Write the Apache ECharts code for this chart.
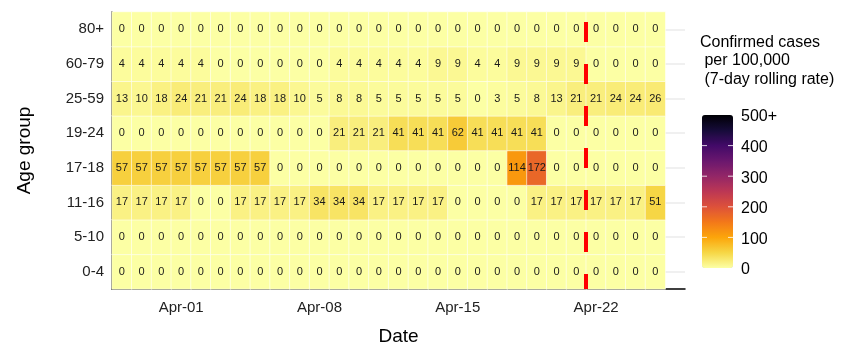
<!DOCTYPE html>
<html>
<head>
<meta charset="utf-8">
<script src="https://cdn.jsdelivr.net/npm/echarts@6/dist/echarts.min.js"></script>
<style>
html, body { margin: 0; padding: 0; background: #fff; }
#chart { width: 852px; height: 347px; }
</style>
</head>
<body>
<div id="chart"></div>
<script>
const dates = ['Mar-29', 'Mar-30', 'Mar-31', 'Apr-01', 'Apr-02', 'Apr-03', 'Apr-04',
    'Apr-05', 'Apr-06', 'Apr-07', 'Apr-08', 'Apr-09', 'Apr-10', 'Apr-11',
    'Apr-12', 'Apr-13', 'Apr-14', 'Apr-15', 'Apr-16', 'Apr-17', 'Apr-18',
    'Apr-19', 'Apr-20', 'Apr-21', 'Apr-22', 'Apr-23', 'Apr-24', 'Apr-25', 'Apr-26'];
const tickLabels = ['Apr-01', 'Apr-08', 'Apr-15', 'Apr-22'];
const ageGroups = ['0-4', '5-10', '11-16', '17-18', '19-24', '25-59', '60-79', '80+'];

const age0to4   = [0,0,0,0,0,0,0,0,0,0,0,0,0,0,0,0,0,0,0,0,0,0,0,0,0,0,0,0];
const age5to10  = [0,0,0,0,0,0,0,0,0,0,0,0,0,0,0,0,0,0,0,0,0,0,0,0,0,0,0,0];
const age11to16 = [17,17,17,17,0,0,17,17,17,17,34,34,34,17,17,17,17,0,0,0,0,17,17,17,17,17,17,51];
const age17to18 = [57,57,57,57,57,57,57,57,0,0,0,0,0,0,0,0,0,0,0,0,114,172,0,0,0,0,0,0];
const age19to24 = [0,0,0,0,0,0,0,0,0,0,0,21,21,21,41,41,41,62,41,41,41,41,0,0,0,0,0,0];
const age25to59 = [13,10,18,24,21,21,24,18,18,10,5,8,8,5,5,5,5,5,0,3,5,8,13,21,21,24,24,26];
const age60to79 = [4,4,4,4,4,0,0,0,0,0,0,4,4,4,4,4,9,9,4,4,9,9,9,9,0,0,0,0];
const age80plus = [0,0,0,0,0,0,0,0,0,0,0,0,0,0,0,0,0,0,0,0,0,0,0,0,0,0,0,0];

const rows = [age0to4, age5to10, age11to16, age17to18, age19to24, age25to59, age60to79, age80plus];
const legendTicks = [0, 100, 200, 300, 400, 500];
const policyDay = 24; // boundary before Apr-22

// inferno, reversed (low = pale yellow)
const inferno = ['#000004', '#160b39', '#420a68', '#6a176e', '#932667', '#bc3754',
    '#dd513a', '#f37819', '#fca50a', '#f6d746', '#fcffa4'];

const FONT = '"Liberation Sans", Arial, sans-serif';

const heatData = [];
rows.forEach(function(vals, yi) {
    vals.forEach(function(v, xi) {
        heatData.push([xi, yi, v]);
    });
});

// colourbar geometry
const barLeft = 702, barTop = 115, barW = 31, barH = 153;
const legendGraphics = [{
    type: 'text',
    left: 700,
    top: 33,
    style: {
        text: 'Confirmed cases\n per 100,000\n (7-day rolling rate)',
        font: '16px ' + FONT,
        fill: '#000',
        lineHeight: 18.7
    }
}];
legendTicks.forEach(function(t) {
    const y = barTop + barH - t / 500 * barH;
    legendGraphics.push({
        type: 'text',
        left: barLeft + barW + 8,
        top: y - 6,
        style: {
            text: t === 500 ? '500+' : String(t),
            font: '16px ' + FONT,
            fill: '#000'
        }
    });
    if (t > 0 && t < 500) {
        legendGraphics.push({
            type: 'line', shape: { x1: barLeft, y1: y, x2: barLeft + 5, y2: y },
            style: { stroke: 'rgba(255,255,255,0.8)', lineWidth: 1 }, z: 100
        });
        legendGraphics.push({
            type: 'line', shape: { x1: barLeft + barW - 5, y1: y, x2: barLeft + barW, y2: y },
            style: { stroke: 'rgba(255,255,255,0.8)', lineWidth: 1 }, z: 100
        });
    }
});

const myChart = echarts.init(document.getElementById('chart'));

const option = {
    backgroundColor: '#ffffff',
    animation: false,
    textStyle: { fontFamily: FONT },
    grid: {
        left: 112,
        right: 167,
        top: 12,
        bottom: 58,
        outerBoundsMode: 'none'
    },
    xAxis: [{
        type: 'category',
        data: dates,
        name: 'Date',
        nameLocation: 'middle',
        nameGap: 38,
        nameTextStyle: { fontSize: 19, color: '#000', fontFamily: FONT },
        axisLine: { lineStyle: { color: '#000', width: 1.5 } },
        axisTick: {
            alignWithLabel: true,
            length: 4,
            lineStyle: { color: '#333' },
            interval: function(idx, val) { return tickLabels.indexOf(val) >= 0; }
        },
        axisLabel: {
            fontSize: 15,
            color: '#222',
            margin: 11,
            interval: function(idx, val) { return tickLabels.indexOf(val) >= 0; }
        },
        splitLine: { show: false }
    }, {
        type: 'value',
        min: 0,
        max: dates.length,
        show: false
    }],
    yAxis: {
        type: 'category',
        data: ageGroups,
        name: 'Age group',
        nameLocation: 'middle',
        nameGap: 78,
        nameRotate: 90,
        nameTextStyle: { fontSize: 19, color: '#000', fontFamily: FONT },
        axisLine: { lineStyle: { color: '#000', width: 1.5 } },
        axisTick: { alignWithLabel: true, length: 4, lineStyle: { color: '#333' } },
        axisLabel: { fontSize: 15, color: '#222', margin: 8 },
        splitLine: { show: false }
    },
    visualMap: {
        type: 'continuous',
        min: 0,
        max: 500,
        calculable: false,
        orient: 'vertical',
        left: barLeft - 15,
        top: barTop - 15,
        itemWidth: barW,
        itemHeight: barH,
        showLabel: false,
        inRange: { color: inferno.slice().reverse() },
        seriesIndex: 0
    },
    series: [{
        type: 'heatmap',
        data: heatData,
        z: 3,
        label: {
            show: true,
            fontSize: 11,
            color: '#1a1a1a',
            fontFamily: FONT
        },
        itemStyle: {
            borderColor: 'rgba(255,255,255,0.7)',
            borderWidth: 0.8
        },
        emphasis: { disabled: true }
    }, {
        // faint horizontal guides at each age group
        type: 'line',
        data: [],
        z: 1,
        markLine: {
            z: 1,
            silent: true,
            symbol: 'none',
            label: { show: false },
            lineStyle: { color: '#ebebeb', width: 1.5, type: 'solid' },
            data: ageGroups.map(function(g) { return { yAxis: g }; })
        }
    }, {
        // red dashed line before Apr-22
        type: 'line',
        xAxisIndex: 1,
        data: [],
        z: 10,
        markLine: {
            z: 10,
            silent: true,
            symbol: 'none',
            label: { show: false },
            lineStyle: { color: '#ff0000', width: 4, type: [20, 22], dashOffset: 5 },
            data: [{ xAxis: policyDay }]
        }
    }],
    graphic: legendGraphics
};

myChart.setOption(option);
</script>
</body>
</html>
